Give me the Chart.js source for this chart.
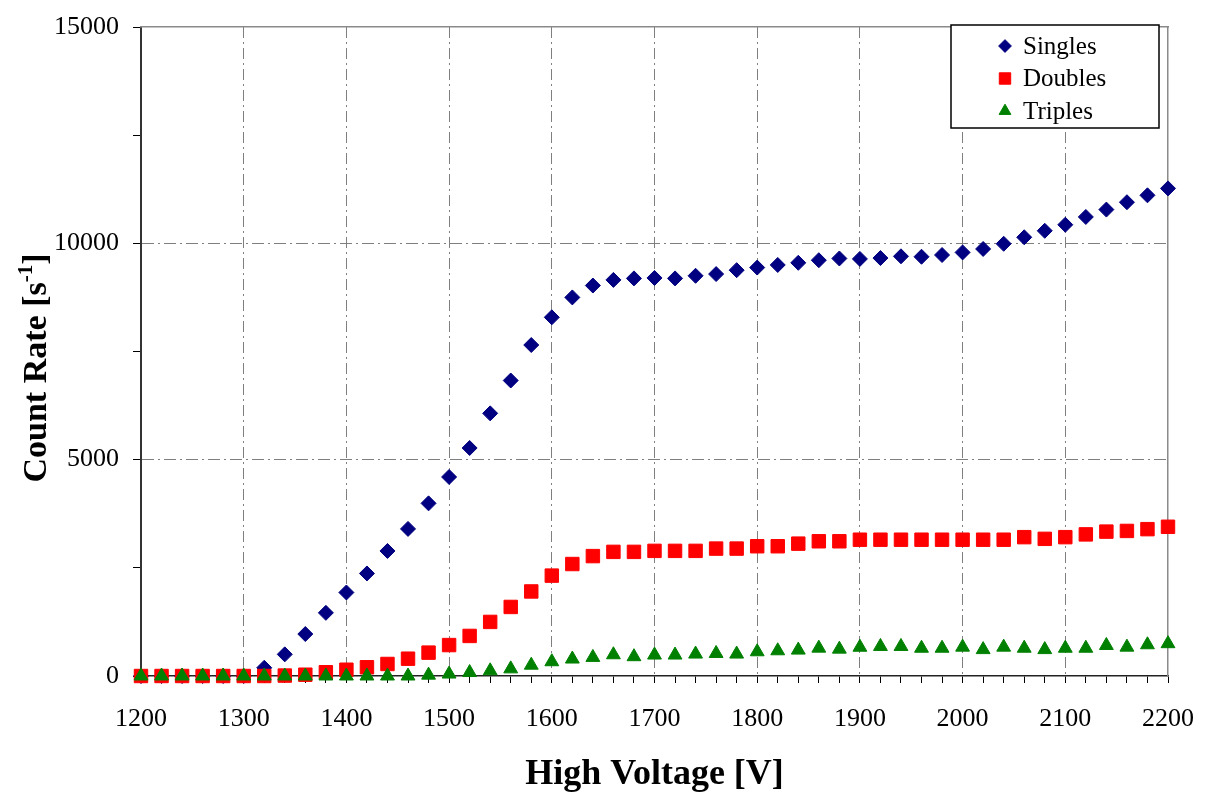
<!DOCTYPE html>
<html>
<head>
<meta charset="utf-8">
<title>Count Rate vs High Voltage</title>
<script src="https://cdn.jsdelivr.net/npm/chart.js@4.4.1/dist/chart.umd.min.js"></script>
<style>
    html, body { margin: 0; padding: 0; background: #fff; }
    #wrap { position: relative; width: 1217px; height: 796px; }
</style>
</head>
<body>
<div id="wrap"><canvas id="hvChart"></canvas></div>
<script>
const voltages = [1200, 1220, 1240, 1260, 1280, 1300, 1320, 1340, 1360, 1380,
    1400, 1420, 1440, 1460, 1480, 1500, 1520, 1540, 1560, 1580,
    1600, 1620, 1640, 1660, 1680, 1700, 1720, 1740, 1760, 1780,
    1800, 1820, 1840, 1860, 1880, 1900, 1920, 1940, 1960, 1980,
    2000, 2020, 2040, 2060, 2080, 2100, 2120, 2140, 2160, 2180, 2200];

const singles = [0, 0, 0, 0, 0, 0, 190, 500, 970, 1460,
    1930, 2370, 2890, 3400, 3990, 4600, 5270, 6070, 6830, 7650,
    8290, 8750, 9025, 9155, 9190, 9200, 9190, 9250, 9290, 9380,
    9440, 9500, 9550, 9610, 9650, 9640, 9660, 9700, 9690, 9730,
    9790, 9870, 9990, 10140, 10290, 10430, 10610, 10780, 10950, 11110, 11270];

const doubles = [0, 0, 0, 0, 0, 0, 0, 10, 30, 87,
    145, 202, 278, 400, 540, 715, 926, 1250, 1596, 1954,
    2320, 2588, 2771, 2869, 2869, 2892, 2892, 2892, 2945, 2945,
    2999, 2999, 3059, 3114, 3114, 3150, 3150, 3150, 3150, 3150,
    3150, 3150, 3150, 3209, 3170, 3209, 3273, 3337, 3353, 3394, 3449];

const triples = [0, 0, 0, 0, 0, 0, 0, 0, 0, 0,
    0, 0, 0, 0, 20, 45, 80, 120, 165, 250,
    330, 392, 430, 491, 446, 484, 484, 507, 521, 507,
    560, 583, 599, 644, 621, 665, 683, 683, 642, 642,
    667, 610, 667, 642, 610, 642, 642, 706, 667, 722, 747];

const yTicks = [0, 5000, 10000, 15000];
const xTicks = [1200, 1300, 1400, 1500, 1600, 1700, 1800, 1900, 2000, 2100, 2200];

const colors = {
    singles: '#000080',
    doubles: '#ff0000',
    triples: '#008000',
    grid: '#7f7f7f'
};

const serif = '"Liberation Serif", "Times New Roman", serif';

function toPoints(ys) {
    return voltages.map((v, i) => ({ x: v, y: ys[i] }));
}

// y title with superscript, drawn on the canvas
const yTitlePlugin = {
    id: 'yTitle',
    afterDraw(chart) {
        const ctx = chart.ctx;
        const big = 'bold 34px ' + serif;
        const small = 'bold 21px ' + serif;
        ctx.save();
        ctx.font = big;
        const w1 = ctx.measureText('Count Rate [s').width;
        const w3 = ctx.measureText(']').width;
        ctx.font = small;
        const w2 = ctx.measureText('-1').width;
        const total = w1 + w2 + w3;
        ctx.translate(34, 368);
        ctx.rotate(-Math.PI / 2);
        ctx.fillStyle = '#000';
        ctx.textBaseline = 'alphabetic';
        ctx.textAlign = 'left';
        let x = -total / 2;
        ctx.font = big;
        ctx.fillText('Count Rate [s', x, 12);
        x += w1;
        ctx.font = small;
        ctx.fillText('-1', x, -2);
        x += w2;
        ctx.font = big;
        ctx.fillText(']', x, 12);
        ctx.restore();
    }
};

// boxed legend in the top-right corner of the plot
const boxLegendPlugin = {
    id: 'boxLegend',
    afterDraw(chart) {
        const ctx = chart.ctx;
        ctx.save();
        ctx.fillStyle = '#fff';
        ctx.fillRect(951, 25, 208, 103);
        ctx.strokeStyle = '#000';
        ctx.lineWidth = 1.5;
        ctx.strokeRect(951, 25, 208, 103);
        chart.data.datasets.forEach((ds, i) => {
            const y = 46 + i * 32.5;
            ctx.fillStyle = ds.pointBackgroundColor;
            ctx.strokeStyle = ds.pointBackgroundColor;
            ctx.lineWidth = 1;
            Chart.helpers.drawPoint(ctx, {
                pointStyle: ds.pointStyle,
                radius: ds.pointRadius * 0.85,
                rotation: 0,
                borderWidth: 1
            }, 1005, y);
            ctx.fillStyle = '#000';
            ctx.font = '25px ' + serif;
            ctx.textBaseline = 'middle';
            ctx.fillText(ds.label, 1023, y + 1);
        });
        ctx.restore();
    }
};

new Chart(document.getElementById('hvChart'), {
    type: 'scatter',
    data: {
        datasets: [{
            label: 'Singles',
            data: toPoints(singles),
            pointStyle: 'rectRot',
            pointRadius: 7.5,
            pointBackgroundColor: colors.singles,
            pointBorderColor: colors.singles,
            pointBorderWidth: 1,
            clip: false,
            order: 3
        }, {
            label: 'Doubles',
            data: toPoints(doubles),
            pointStyle: 'rect',
            pointRadius: 9.5,
            pointBackgroundColor: colors.doubles,
            pointBorderColor: colors.doubles,
            pointBorderWidth: 1,
            clip: false,
            order: 2
        }, {
            label: 'Triples',
            data: toPoints(triples),
            pointStyle: 'triangle',
            pointRadius: 8,
            pointBackgroundColor: colors.triples,
            pointBorderColor: colors.triples,
            pointBorderWidth: 1,
            clip: false,
            order: 1
        }]
    },
    options: {
        responsive: true,
        maintainAspectRatio: false,
        animation: false,
        layout: { padding: { top: 19, right: 44, left: 0, bottom: 0 } },
        plugins: {
            legend: { display: false },
            tooltip: { enabled: false }
        },
        scales: {
            x: {
                type: 'linear',
                min: 1200,
                max: 2200,
                afterFit: s => { s.height = 120; },
                ticks: {
                    stepSize: 20,
                    autoSkip: false,
                    maxRotation: 0,
                    padding: 23,
                    color: '#000',
                    font: { family: serif, size: 26, lineHeight: 1 },
                    callback: v => xTicks.includes(v) ? String(v) : ''
                },
                grid: {
                    color: c => (c.tick && c.tick.value % 100 === 0 && c.tick.value > 1200 && c.tick.value < 2200) ? colors.grid : 'rgba(0,0,0,0)',
                    tickColor: '#000',
                    tickLength: 7,
                    lineWidth: 1
                },
                border: { color: '#222', width: 1.5, dash: [11, 4, 2, 4] },
                title: {
                    display: true,
                    text: 'High Voltage [V]',
                    color: '#000',
                    font: { family: serif, size: 36, weight: 'bold', lineHeight: 1.2 },
                    padding: { top: 0, bottom: 0 }
                }
            },
            y: {
                min: 0,
                max: 15000,
                afterFit: s => { s.width = 141; },
                ticks: {
                    stepSize: 2500,
                    padding: 14,
                    color: '#000',
                    font: { family: serif, size: 26, lineHeight: 1 },
                    callback: v => yTicks.includes(v) ? String(v) : ''
                },
                grid: {
                    color: c => (c.tick && (c.tick.value === 5000 || c.tick.value === 10000)) ? colors.grid : 'rgba(0,0,0,0)',
                    tickColor: '#000',
                    tickLength: 8,
                    lineWidth: 1
                },
                border: { color: '#333', width: 2, dash: [12, 4, 2, 4] }
            },
            x2: {
                type: 'linear',
                position: 'top',
                min: 1200,
                max: 2200,
                afterFit: s => { s.height = 0; },
                ticks: { display: false },
                grid: { display: false, drawTicks: false },
                border: { color: '#8a8a8a', width: 1.5 }
            },
            y2: {
                position: 'right',
                min: 0,
                max: 15000,
                afterFit: s => { s.width = 0; },
                ticks: { display: false },
                grid: { display: false, drawTicks: false },
                border: { color: '#8a8a8a', width: 1.5 }
            }
        }
    },
    plugins: [yTitlePlugin, boxLegendPlugin]
});
</script>
</body>
</html>
